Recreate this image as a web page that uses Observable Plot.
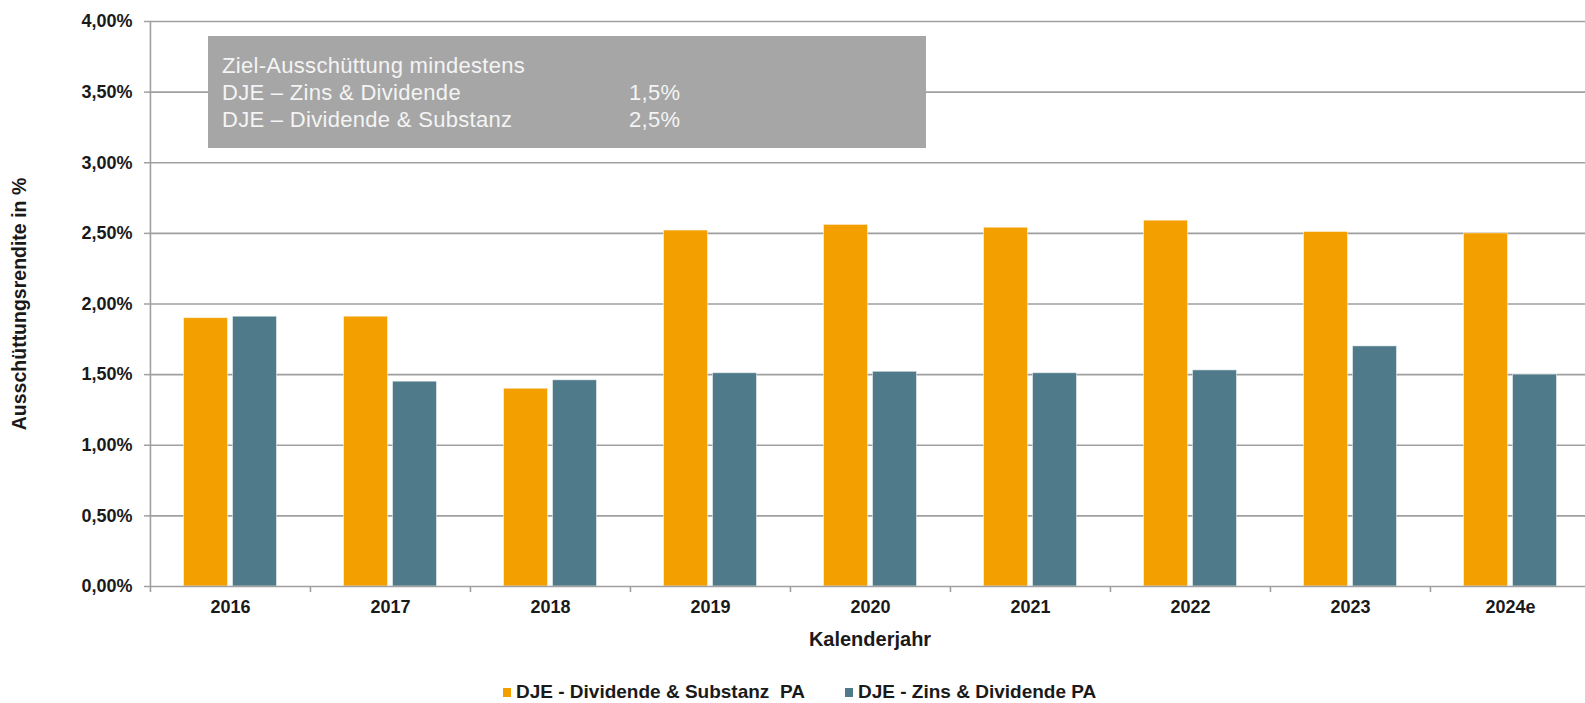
<!DOCTYPE html>
<html>
<head>
<meta charset="utf-8">
<script src="https://cdn.jsdelivr.net/npm/d3@7"></script>
<script src="https://cdn.jsdelivr.net/npm/@observablehq/plot@0.6"></script>
<style>
  html, body { margin: 0; padding: 0; background: #fff; overflow: hidden; }
  #wrap { position: relative; width: 1585px; height: 703px; font-family: "Liberation Sans", Arial, sans-serif; }
  #chart svg { display: block; }
  #chart svg g[aria-label="y-axis tick"] path { stroke: #a0a0a0; stroke-width: 1.5; }
  .note { position: absolute; left: 208px; top: 36px; width: 718px; height: 112px; background: #a6a6a6;
          color: #f4f4f4; font-size: 22px; line-height: 27px; padding: 16px 0 0 14px; box-sizing: border-box; letter-spacing: 0.3px; }
  .note .row { white-space: nowrap; }
  .note .lab { display: inline-block; width: 407px; }
  .legend { position: absolute; top: 681px; left: 0; font-size: 19px; font-weight: bold; color: #1a1a1a; white-space: nowrap; }
  .legend .item { position: absolute; top: 0; display: flex; align-items: center; }
  .legend .sw { width: 8px; height: 9px; margin-right: 5px; }
</style>
</head>
<body>
<div id="wrap">
  <div id="chart"></div>
  <div class="note" id="note"></div>
  <div class="legend" id="legend"></div>
</div>
<script>
// ---- data ----
const years = ["2016", "2017", "2018", "2019", "2020", "2021", "2022", "2023", "2024e"];
const substanz = [1.90, 1.91, 1.40, 2.52, 2.56, 2.54, 2.59, 2.51, 2.50];
const zins = [1.91, 1.45, 1.46, 1.51, 1.52, 1.51, 1.53, 1.70, 1.50];
const seriesNames = ["DJE - Dividende & Substanz  PA", "DJE - Zins & Dividende PA"];
const seriesColors = ["#F39F00", "#4E7A89"];
const yTicks = [0, 0.5, 1, 1.5, 2, 2.5, 3, 3.5, 4];
const yTitle = "Ausschüttungsrendite in %";
const xTitle = "Kalenderjahr";
const noteLines = [
  ["Ziel-Ausschüttung mindestens", ""],
  ["DJE – Zins & Dividende", "1,5%"],
  ["DJE – Dividende & Substanz", "2,5%"]
];

// ---- layout ----
const width = 1585, height = 703;
const marginLeft = 149, marginRight = -5, marginTop = 21, marginBottom = 117;
const step = (width - marginLeft - marginRight) / years.length;
const barW = 44, gap = 5;
const pad = 1 - barW / step;
const tickLen = 6 / ((height - marginTop - marginBottom) / 4); // 6px in data units

const rowsS = years.map((y, i) => ({year: y, value: substanz[i]}));
const rowsZ = years.map((y, i) => ({year: y, value: zins[i]}));
const fmt = d => d.toFixed(2).replace(".", ",") + "%";

const chart = Plot.plot({
  width, height, marginLeft, marginRight, marginTop, marginBottom,
  style: {fontFamily: "Liberation Sans, Arial, sans-serif", fontSize: "18px", fontWeight: "bold", color: "#1a1a1a", background: "transparent"},
  x: {type: "band", domain: years, paddingInner: pad, paddingOuter: pad / 2, axis: null},
  y: {domain: [0, 4], axis: null},
  marks: [
    Plot.ruleY(yTicks.filter(d => d > 0), {stroke: "#a0a0a0", strokeWidth: 1.6}),
    Plot.barY(rowsS, {x: "year", y: "value", fill: seriesColors[0], dx: -(barW + gap) / 2, stroke: "#fff", strokeOpacity: 0.5, strokeWidth: 1}),
    Plot.barY(rowsZ, {x: "year", y: "value", fill: seriesColors[1], dx: (barW + gap) / 2, stroke: "#fff", strokeOpacity: 0.5, strokeWidth: 1}),
    Plot.ruleY([0], {stroke: "#a0a0a0", strokeWidth: 1.6}),
    Plot.ruleX(years, {x: d => d, dx: -step / 2, y1: -tickLen, y2: d => d === years[0] ? 4 : 0, stroke: "#a0a0a0", strokeWidth: 1.6}),
    Plot.axisY({ticks: yTicks, tickFormat: fmt, tickSize: 5, tickPadding: 12, fontSize: 18, label: null}),
    Plot.axisY({ticks: [], label: yTitle, labelAnchor: "center", labelArrow: "none", labelOffset: 137, fontSize: 19.5}),
    Plot.axisX({domain: years, tickSize: 0, tickPadding: 14, fontSize: 18, label: null}),
    Plot.axisX({ticks: [], label: xTitle, labelAnchor: "center", labelArrow: "none", labelOffset: 59, fontSize: 20})
  ]
});
document.getElementById("chart").appendChild(chart);

// note box
const note = document.getElementById("note");
noteLines.forEach(([a, b]) => {
  const r = document.createElement("div");
  r.className = "row";
  const s1 = document.createElement("span"); s1.className = "lab"; s1.textContent = a;
  const s2 = document.createElement("span"); s2.textContent = b;
  r.appendChild(s1); r.appendChild(s2);
  note.appendChild(r);
});

// legend
const legend = document.getElementById("legend");
const legendX = [503, 845];
seriesNames.forEach((n, i) => {
  const it = document.createElement("div");
  it.className = "item";
  it.style.left = legendX[i] + "px";
  const sw = document.createElement("span"); sw.className = "sw"; sw.style.background = seriesColors[i];
  const tx = document.createElement("span"); tx.textContent = n; tx.style.whiteSpace = "pre";
  it.appendChild(sw); it.appendChild(tx);
  legend.appendChild(it);
});
</script>
</body>
</html>
